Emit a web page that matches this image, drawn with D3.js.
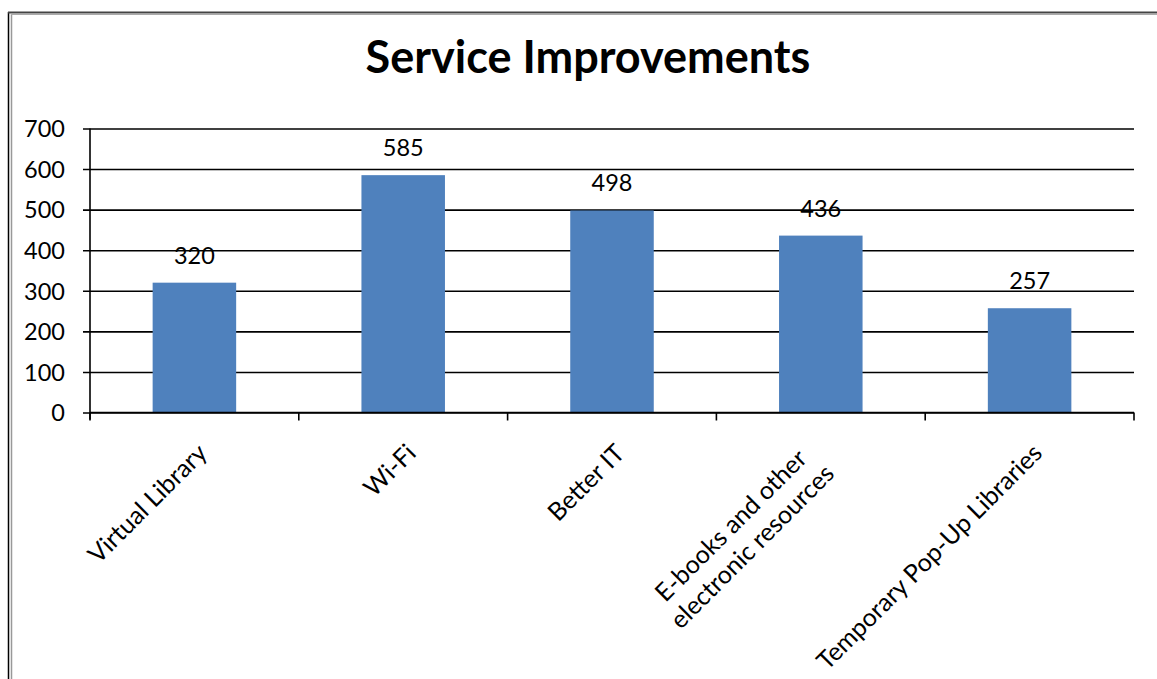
<!DOCTYPE html>
<html>
<head>
<meta charset="utf-8">
<script src="https://cdn.jsdelivr.net/npm/d3@7"></script>
<style>
  html, body { margin: 0; padding: 0; background: #fff; }
  svg { display: block; }
  text { font-family: "Lato", "Open Sans", sans-serif; fill: #000; }
</style>
</head>
<body>
<svg id="chart" width="1157" height="679"></svg>
<script>
const categories = ["Virtual Library", "Wi-Fi", "Better IT", "E-books and other\nelectronic resources", "Temporary Pop-Up Libraries"];
const values = [320, 585, 498, 436, 257];
const yTicks = [0, 100, 200, 300, 400, 500, 600, 700];
const title = "Service Improvements";

(function () {
const svg = d3.select("#chart");
const W = 1157, H = 679;
const FS = 23.5, CFS = 25;

// frame borders
svg.append("line").attr("x1", 8.5).attr("x2", 8.5).attr("y1", 12).attr("y2", H).attr("stroke", "#000").attr("stroke-width", 1.5);
svg.append("line").attr("x1", 11.5).attr("x2", 11.5).attr("y1", 14).attr("y2", H).attr("stroke", "#999").attr("stroke-width", 1.5);
svg.append("line").attr("x1", 8).attr("x2", W).attr("y1", 12.5).attr("y2", 12.5).attr("stroke", "#444").attr("stroke-width", 2);
svg.append("line").attr("x1", 11).attr("x2", W).attr("y1", 14.5).attr("y2", 14.5).attr("stroke", "#aaa").attr("stroke-width", 1);

const pLeft = 90, pRight = 1134, pTop = 128.5, pBottom = 412.5;

const x = d3.scaleBand().domain(categories).range([pLeft, pRight]).padding(0);
const y = d3.scaleLinear().domain([0, 700]).range([pBottom, pTop]);

// title
svg.append("text").attr("x", 588).attr("y", 72.5).attr("text-anchor", "middle")
  .style("font-size", "45px").style("font-weight", "bold").text(title);

// gridlines
const yAxis = d3.axisLeft(y).tickValues(yTicks).tickSize(-(pRight - pLeft)).tickSizeOuter(0);
const gy = svg.append("g").attr("transform", `translate(${pLeft},0)`).call(yAxis);
gy.select(".domain").remove();
gy.selectAll(".tick line").attr("x1", -7).attr("x2", pRight - pLeft).attr("stroke", "#000").attr("stroke-width", 1.6);
gy.selectAll(".tick text").style("font-size", FS + "px").style("font-family", "Lato, sans-serif").attr("dy", "0.35em").attr("x", -25);

// y axis line
svg.append("line").attr("x1", pLeft).attr("x2", pLeft).attr("y1", pTop).attr("y2", pBottom + 7).attr("stroke", "#000").attr("stroke-width", 1.6);

// bars
const barW = x.bandwidth() * 0.4;
svg.selectAll("rect.bar").data(values).enter().append("rect")
  .attr("class", "bar")
  .attr("x", (d, i) => x(categories[i]) + (x.bandwidth() - barW) / 2)
  .attr("y", d => y(d))
  .attr("width", barW)
  .attr("height", d => y(0) - y(d))
  .attr("fill", "#4F81BD");

// x axis
const gx = svg.append("g").attr("transform", `translate(0,${pBottom})`);
gx.append("line").attr("x1", pLeft).attr("x2", pRight).attr("stroke", "#000").attr("stroke-width", 1.6);
const bounds = categories.map(c => x(c)).concat([pRight]);
gx.selectAll("line.tk").data(bounds).enter().append("line").attr("class", "tk")
  .attr("x1", d => d).attr("x2", d => d).attr("y1", 0).attr("y2", 8)
  .attr("stroke", "#000").attr("stroke-width", 1.6);

// value labels
svg.selectAll("text.val").data(values).enter().append("text")
  .attr("class", "val")
  .attr("x", (d, i) => x(categories[i]) + x.bandwidth() / 2)
  .attr("y", d => y(d) - 19)
  .attr("text-anchor", "middle")
  .style("font-size", FS + "px")
  .text(d => d);

// category labels (multi-line labels centered)
categories.forEach((c, i) => {
  const cx = x(c) + x.bandwidth() / 2;
  const lines = c.split("\n");
  const t = svg.append("text")
    .attr("transform", `translate(${cx + 8},${pBottom + 36}) rotate(-45)`)
    .style("font-size", CFS + "px");
  const spans = lines.map((ln, j) => t.append("tspan")
    .attr("dy", j === 0 ? (-(lines.length - 1) * 0.6 + 0.35) + "em" : "1.2em").text(ln));
  const maxW = d3.max(spans, s => s.node().getComputedTextLength());
  const shift = lines.length > 1 ? -14 : 0;
  spans.forEach(s => s.attr("x", -maxW / 2 + shift).attr("text-anchor", "middle"));
});
})();
</script>
</body>
</html>
